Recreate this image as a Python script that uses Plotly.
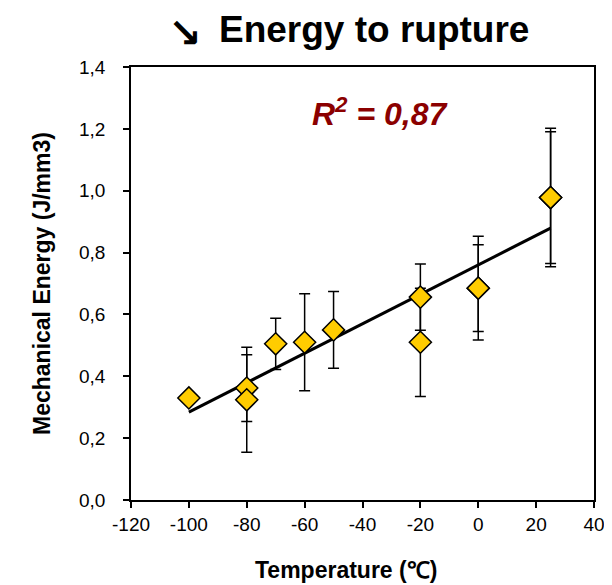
import plotly.graph_objects as go

# Data
temp = [-100, -80, -80, -70, -60, -50, -20, -20, 0, 0, 25, 25]
energy = [0.33, 0.362, 0.324, 0.505, 0.51, 0.55, 0.656, 0.51, 0.685, 0.685, 0.978, 0.978]
err = [0.0, 0.108, 0.17, 0.083, 0.157, 0.124, 0.107, 0.175, 0.168, 0.14, 0.224, 0.213]

trend_x = [-100, 25]
trend_y = [0.284, 0.879]

x_ticks = [-120, -100, -80, -60, -40, -20, 0, 20, 40]
y_ticks = [0.0, 0.2, 0.4, 0.6, 0.8, 1.0, 1.2, 1.4]
y_labels = ["0,0", "0,2", "0,4", "0,6", "0,8", "1,0", "1,2", "1,4"]

FONT = "Liberation Sans, Arial, sans-serif"
L, R, T, B = 123, 26, 59, 93
PW, PH = 612 - L - R, 585 - T - B


def px(x):
    return (x - L) / PW


def py(y):
    return (585 - B - y) / PH


fig = go.Figure()

fig.add_trace(go.Scatter(
    x=trend_x, y=trend_y, mode="lines",
    line=dict(color="black", width=3), showlegend=False,
))

fig.add_trace(go.Scatter(
    x=temp, y=energy, mode="markers",
    marker=dict(symbol="diamond", size=17, color="#FFCC00",
                line=dict(color="black", width=1.5)),
    error_y=dict(type="data", array=err, visible=True, color="black",
                 thickness=1.5, width=5.5),
    showlegend=False, cliponaxis=False,
))

fig.update_layout(
    width=612, height=585,
    margin=dict(l=L, r=R, t=T, b=B),
    paper_bgcolor="white", plot_bgcolor="white",
    font=dict(family=FONT, color="black", size=19),
    xaxis=dict(
        range=[-120, 40], tickvals=x_ticks, ticktext=[str(v) for v in x_ticks],
        showgrid=False, zeroline=False, showline=True, linecolor="black",
        linewidth=1.5, mirror=True, ticks="outside", ticklen=6, tickwidth=1.5,
        tickcolor="black", tickfont=dict(size=19, family=FONT),
        ticklabelstandoff=0,
    ),
    yaxis=dict(
        range=[0, 1.4], tickvals=y_ticks, ticktext=y_labels,
        showgrid=False, zeroline=False, showline=True, linecolor="black",
        linewidth=1.5, mirror=True, ticks="outside", ticklen=6, tickwidth=1.5,
        tickcolor="black", tickfont=dict(size=19, family=FONT),
        ticklabelstandoff=14,
    ),
    annotations=[
        dict(text="<b>↘</b>", xref="paper", yref="paper",
             x=px(177), y=py(25), xanchor="center",
             yanchor="middle", showarrow=False,
             font=dict(size=40, family="DejaVu Sans", color="black")),
        dict(text="<b>Energy to rupture</b>", xref="paper", yref="paper",
             x=px(366), y=py(22), xanchor="center",
             yanchor="middle", showarrow=False,
             font=dict(size=37, family=FONT, color="black")),
        dict(text="<b><i>R<sup>2</sup> = 0,87</i></b>", xref="paper", yref="paper",
             x=px(372), y=py(104), xanchor="center",
             yanchor="middle", showarrow=False,
             font=dict(size=32, family=FONT, color="#8B0000")),
        dict(text="<b>Temperature (℃)</b>", xref="paper", yref="paper",
             x=px(338), y=py(562), xanchor="center", yanchor="middle",
             showarrow=False, font=dict(size=23, family=FONT, color="black")),
        dict(text="<b>Mechanical Energy (J/mm3)</b>", xref="paper", yref="paper",
             x=px(34), y=py(276), xanchor="center", yanchor="middle",
             textangle=-90, showarrow=False,
             font=dict(size=23, family=FONT, color="black")),
        dict(text="<b>5</b>", xref="paper", yref="paper",
             x=px(606), y=py(566), xanchor="left",
             yanchor="middle", showarrow=False,
             font=dict(size=28, family=FONT, color="#2E9E4F")),
    ],
)

fig.write_html("out.html")
